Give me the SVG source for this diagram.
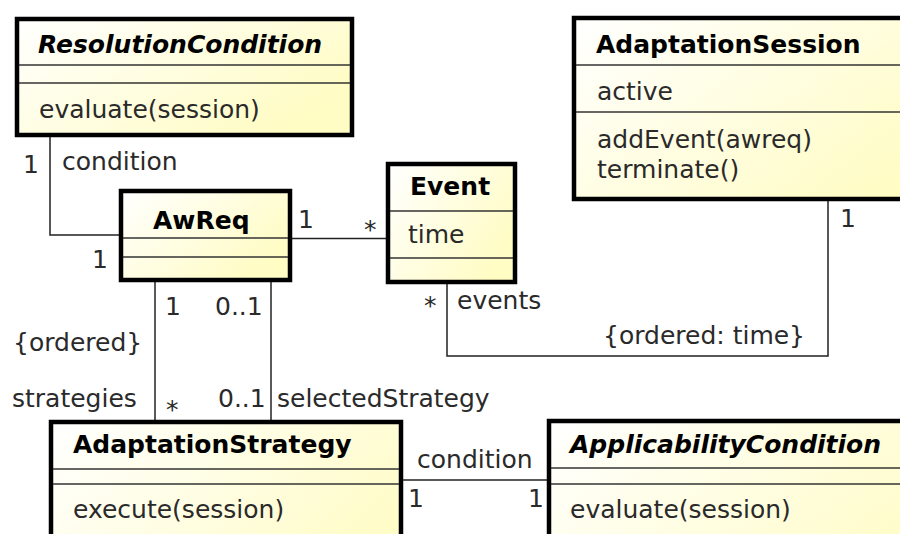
<svg xmlns="http://www.w3.org/2000/svg" width="900" height="534" viewBox="0 0 900 534">
<defs>
<linearGradient id="fill" x1="0" y1="0" x2="1" y2="0.6">
<stop offset="0" stop-color="#ffffff"/>
<stop offset="1" stop-color="#fffcc4"/>
</linearGradient>
</defs>
<style>
.box{fill:url(#fill);stroke:#000;stroke-width:4.5}
.sep{stroke:#333;stroke-width:1.5}
.t{font-family:"DejaVu Sans",sans-serif;font-size:25px;fill:#2a2a2a}
.h{font-family:"DejaVu Sans",sans-serif;font-size:25px;font-weight:bold;fill:#000}
.i{font-style:oblique}
.c{fill:none;stroke:#222;stroke-width:1.5}
</style>
<rect width="900" height="534" fill="#fff"/>
<g id="connectors">
<polyline class="c" points="50,137 50,235 121,235"/>
<line class="c" x1="292" y1="238.5" x2="386" y2="238.5"/>
<line class="c" x1="155" y1="282" x2="155" y2="420"/>
<line class="c" x1="271" y1="282" x2="271" y2="420"/>
<polyline class="c" points="447,284 447,356 828,356 828,201"/>
<line class="c" x1="403" y1="480" x2="547" y2="480"/>
<text class="t" x="23" y="173">1</text>
<text class="t" x="62" y="170">condition</text>
<text class="t" x="92" y="268">1</text>
<text class="t" x="298" y="228">1</text>
<text class="t" x="364" y="238">*</text>
<text class="t" x="424" y="314">*</text>
<text class="t" x="457" y="309">events</text>
<text class="t" x="603" y="344">{ordered: time}</text>
<text class="t" x="840" y="227">1</text>
<text class="t" x="165" y="315">1</text>
<text class="t" x="215" y="315">0..1</text>
<text class="t" x="13" y="351">{ordered}</text>
<text class="t" x="12" y="407">strategies</text>
<text class="t" x="166" y="418">*</text>
<text class="t" x="218" y="407">0..1</text>
<text class="t" x="277" y="407">selectedStrategy</text>
<text class="t" x="417" y="468">condition</text>
<text class="t" x="408" y="507">1</text>
<text class="t" x="528" y="507">1</text>
</g>
<g id="ResolutionCondition">
<rect class="box" x="17" y="19" width="335" height="116"/>
<line class="sep" x1="19" y1="65" x2="350" y2="65"/>
<line class="sep" x1="19" y1="83" x2="350" y2="83"/>
<text class="h i" x="38" y="53">ResolutionCondition</text>
<text class="t" x="39" y="118">evaluate(session)</text>
</g>
<g id="AwReq">
<rect class="box" x="121" y="191" width="169" height="89"/>
<line class="sep" x1="123" y1="238" x2="288" y2="238"/>
<line class="sep" x1="123" y1="257" x2="288" y2="257"/>
<text class="h" x="153" y="229">AwReq</text>
</g>
<g id="Event">
<rect class="box" x="388" y="164" width="127" height="118"/>
<line class="sep" x1="390" y1="211" x2="513" y2="211"/>
<line class="sep" x1="390" y1="258" x2="513" y2="258"/>
<text class="h" x="410" y="195">Event</text>
<text class="t" x="408" y="243">time</text>
</g>
<g id="AdaptationSession">
<rect class="box" x="574" y="18" width="400" height="181"/>
<line class="sep" x1="576" y1="65" x2="972" y2="65"/>
<line class="sep" x1="576" y1="112" x2="972" y2="112"/>
<text class="h" x="596" y="53">AdaptationSession</text>
<text class="t" x="597" y="100">active</text>
<text class="t" x="597" y="148">addEvent(awreq)</text>
<text class="t" x="597" y="178">terminate()</text>
</g>
<g id="AdaptationStrategy">
<rect class="box" x="51" y="422" width="350" height="200"/>
<line class="sep" x1="53" y1="469" x2="399" y2="469"/>
<line class="sep" x1="53" y1="484" x2="399" y2="484"/>
<text class="h" x="73" y="453">AdaptationStrategy</text>
<text class="t" x="73" y="518">execute(session)</text>
</g>
<g id="ApplicabilityCondition">
<rect class="box" x="549" y="421" width="400" height="200"/>
<line class="sep" x1="551" y1="468" x2="947" y2="468"/>
<line class="sep" x1="551" y1="484" x2="947" y2="484"/>
<text class="h i" x="570" y="453">ApplicabilityCondition</text>
<text class="t" x="570" y="518">evaluate(session)</text>
</g>
</svg>
